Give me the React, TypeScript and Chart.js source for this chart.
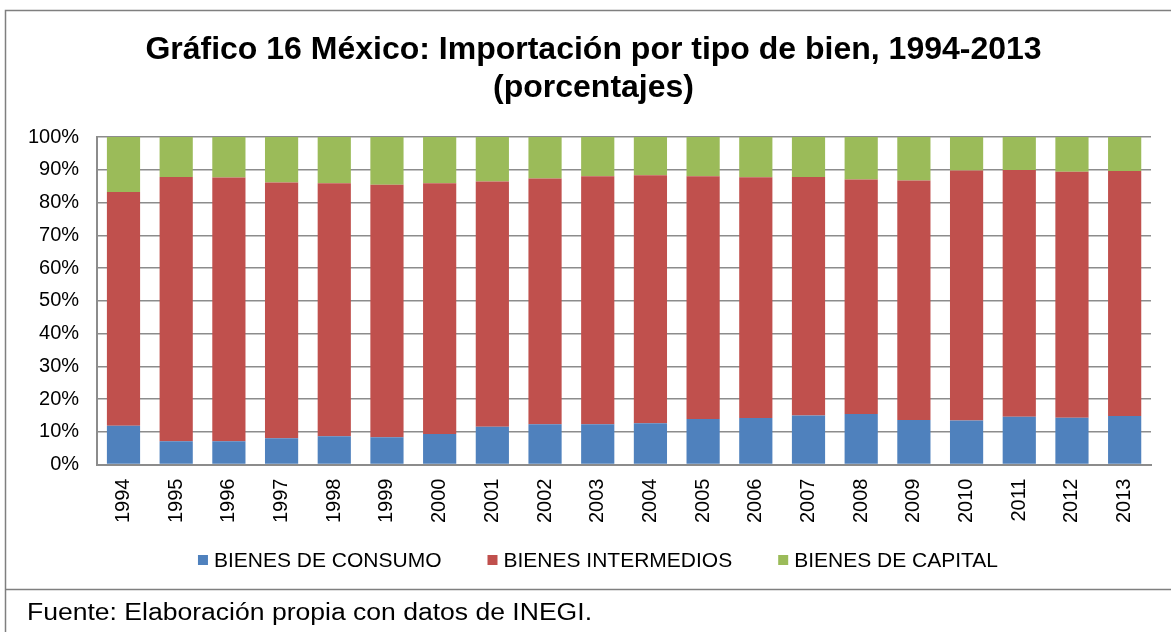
import React, { useEffect, useRef } from 'react';
import { Chart, registerables } from 'chart.js';

Chart.register(...registerables);

const YEARS = ['1994', '1995', '1996', '1997', '1998', '1999', '2000', '2001', '2002', '2003', '2004', '2005', '2006', '2007', '2008', '2009', '2010', '2011', '2012', '2013'];
const CONSUMO = [11.8, 7.1, 7.1, 8.0, 8.6, 8.3, 9.3, 11.5, 12.3, 12.3, 12.6, 13.9, 14.2, 15.0, 15.4, 13.6, 13.4, 14.6, 14.3, 14.8];
const INTERMEDIOS = [71.4, 80.7, 80.5, 78.1, 77.3, 77.1, 76.6, 74.9, 75.0, 75.7, 75.7, 74.1, 73.5, 72.8, 71.6, 73.1, 76.4, 75.3, 75.1, 74.8];
const CAPITAL = [16.8, 12.2, 12.4, 13.9, 14.1, 14.6, 14.1, 13.6, 12.7, 12.0, 11.7, 12.0, 12.3, 12.2, 13.0, 13.3, 10.2, 10.1, 10.6, 10.4];
const SERIES_NAMES = ['BIENES DE CONSUMO', 'BIENES INTERMEDIOS', 'BIENES DE CAPITAL'];
const SERIES_COLORS = ['#4F81BD', '#C0504D', '#9BBB59'];
const TITLE_LINES = ['Gráfico 16 México: Importación por tipo de bien, 1994-2013', '(porcentajes)'];
const FOOTNOTE = 'Fuente: Elaboración propia con datos de INEGI.';

const FONT = "Arial, 'Liberation Sans', sans-serif";

const framePlugin = {
  id: 'framePlugin',
  beforeDraw(chart: any) {
    const ctx = chart.ctx;
    ctx.save();
    ctx.fillStyle = '#ffffff';
    ctx.fillRect(0, 0, chart.width, chart.height);
    ctx.restore();
  },
  afterDraw(chart: any) {
    const ctx = chart.ctx;
    ctx.save();
    // frame lines
    ctx.strokeStyle = '#7f7f7f';
    ctx.lineWidth = 1.5;
    ctx.beginPath();
    ctx.moveTo(5.5, chart.height);
    ctx.lineTo(5.5, 10.5);
    ctx.lineTo(chart.width, 10.5);
    ctx.moveTo(5.5, 589.5);
    ctx.lineTo(chart.width, 589.5);
    ctx.stroke();

    // title
    ctx.font = `bold 32px ${FONT}`;
    ctx.fillStyle = '#000000';
    ctx.textAlign = 'center';
    ctx.textBaseline = 'middle';
    TITLE_LINES.forEach((line, i) => {
      ctx.fillText(line, 593.5, 50 + i * 38);
    });

    // custom legend
    const ds = chart.data.datasets;
    ctx.font = `21px ${FONT}`;
    const box = 10;
    const gapText = 6;
    const gapItem = 46;
    const widths = ds.map((d: any) => box + gapText + ctx.measureText(d.label).width);
    const total = widths.reduce((a: number, b: number) => a + b, 0) + gapItem * (ds.length - 1);
    let x = 598 - total / 2;
    const yMid = 560;
    ctx.textBaseline = 'middle';
    ctx.textAlign = 'left';
    ds.forEach((d: any, i: number) => {
      ctx.fillStyle = d.backgroundColor;
      ctx.fillRect(x, yMid - box / 2, box, box);
      ctx.fillStyle = '#000000';
      ctx.fillText(d.label, x + box + gapText, yMid + 1);
      x += widths[i] + gapItem;
    });

    // footnote (slightly widened, as in the reference)
    ctx.font = `23px ${FONT}`;
    ctx.textBaseline = 'alphabetic';
    ctx.fillStyle = '#000000';
    const fw = ctx.measureText(FOOTNOTE).width;
    ctx.translate(27, 620);
    ctx.scale(565 / fw, 1);
    ctx.fillText(FOOTNOTE, 0, 0);
    ctx.restore();
  },
};

export default function App() {
  const canvasRef = useRef<HTMLCanvasElement | null>(null);

  useEffect(() => {
    if (!canvasRef.current) return;
    const seriesValues = [CONSUMO, INTERMEDIOS, CAPITAL];
    const chart = new Chart(canvasRef.current, {
      type: 'bar',
      data: {
        labels: YEARS,
        datasets: seriesValues.map((vals, i) => ({
          label: SERIES_NAMES[i],
          data: vals,
          backgroundColor: SERIES_COLORS[i],
          borderWidth: 0,
          barPercentage: 0.63,
          categoryPercentage: 1,
        })),
      },
      options: {
        responsive: false,
        animation: false,
        devicePixelRatio: 1,
        layout: { padding: { top: 137, left: 10, right: 20, bottom: 95 } },
        plugins: {
          legend: { display: false },
          tooltip: { enabled: false },
          title: { display: false },
        },
        scales: {
          x: {
            stacked: true,
            grid: { display: false, drawTicks: false },
            border: { display: true, color: '#8c8c8c', width: 2 },
            ticks: {
              color: '#000000',
              font: { family: FONT, size: 20 },
              minRotation: 90,
              maxRotation: 90,
              padding: 14,
              autoSkip: false,
            },
          },
          y: {
            stacked: true,
            min: 0,
            max: 100,
            grid: { color: '#8c8c8c', lineWidth: 1.5, drawTicks: false },
            border: { display: true, color: '#8c8c8c', width: 2 },
            ticks: {
              stepSize: 10,
              color: '#000000',
              font: { family: FONT, size: 20 },
              padding: 18,
              callback: (v: any) => `${v}%`,
            },
          },
        },
      },
      plugins: [framePlugin],
    });
    return () => chart.destroy();
  }, []);

  return (
    <div style={{ position: 'fixed', left: 0, top: 0, width: 1171, height: 632, background: '#fff' }}>
      <canvas ref={canvasRef} width={1171} height={632} style={{ display: 'block' }} />
    </div>
  );
}
